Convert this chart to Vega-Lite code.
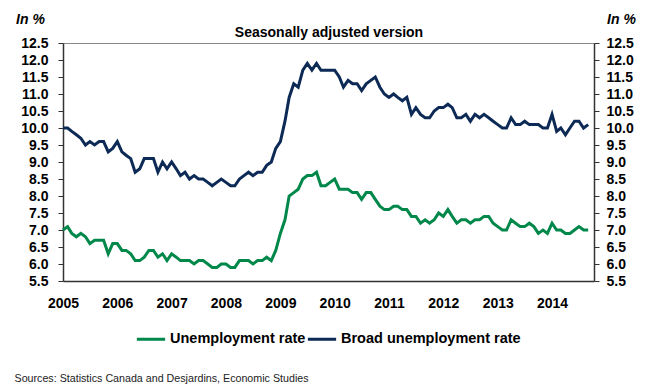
{
"$schema": "https://vega.github.io/schema/vega-lite/v6.json",
"width": 531, "height": 238,
"autosize": {"type": "none"},
"padding": {"left": 63, "top": 43, "right": 55, "bottom": 104},
"background": "white",
"config": {"font": "Liberation Sans", "view": {"stroke": null}},
"data": {"values": [
{"d":"2005-01-01","u":7.0,"b":10.0},{"d":"2005-02-01","u":7.1,"b":10.0},{"d":"2005-03-01","u":6.9,"b":9.9},{"d":"2005-04-01","u":6.8,"b":9.8},{"d":"2005-05-01","u":6.9,"b":9.7},{"d":"2005-06-01","u":6.8,"b":9.5},{"d":"2005-07-01","u":6.6,"b":9.6},{"d":"2005-08-01","u":6.7,"b":9.5},{"d":"2005-09-01","u":6.7,"b":9.6},{"d":"2005-10-01","u":6.7,"b":9.6},{"d":"2005-11-01","u":6.3,"b":9.3},{"d":"2005-12-01","u":6.6,"b":9.4},
{"d":"2006-01-01","u":6.6,"b":9.6},{"d":"2006-02-01","u":6.4,"b":9.3},{"d":"2006-03-01","u":6.4,"b":9.2},{"d":"2006-04-01","u":6.3,"b":9.1},{"d":"2006-05-01","u":6.1,"b":8.7},{"d":"2006-06-01","u":6.1,"b":8.8},{"d":"2006-07-01","u":6.2,"b":9.1},{"d":"2006-08-01","u":6.4,"b":9.1},{"d":"2006-09-01","u":6.4,"b":9.1},{"d":"2006-10-01","u":6.2,"b":8.7},{"d":"2006-11-01","u":6.3,"b":9.0},{"d":"2006-12-01","u":6.1,"b":8.8},
{"d":"2007-01-01","u":6.3,"b":9.0},{"d":"2007-02-01","u":6.2,"b":8.8},{"d":"2007-03-01","u":6.1,"b":8.6},{"d":"2007-04-01","u":6.1,"b":8.7},{"d":"2007-05-01","u":6.1,"b":8.5},{"d":"2007-06-01","u":6.0,"b":8.6},{"d":"2007-07-01","u":6.1,"b":8.5},{"d":"2007-08-01","u":6.1,"b":8.5},{"d":"2007-09-01","u":6.0,"b":8.4},{"d":"2007-10-01","u":5.9,"b":8.3},{"d":"2007-11-01","u":5.9,"b":8.4},{"d":"2007-12-01","u":6.0,"b":8.5},
{"d":"2008-01-01","u":6.0,"b":8.4},{"d":"2008-02-01","u":5.9,"b":8.3},{"d":"2008-03-01","u":5.9,"b":8.3},{"d":"2008-04-01","u":6.1,"b":8.5},{"d":"2008-05-01","u":6.1,"b":8.6},{"d":"2008-06-01","u":6.1,"b":8.7},{"d":"2008-07-01","u":6.0,"b":8.6},{"d":"2008-08-01","u":6.1,"b":8.7},{"d":"2008-09-01","u":6.1,"b":8.7},{"d":"2008-10-01","u":6.2,"b":8.9},{"d":"2008-11-01","u":6.1,"b":9.0},{"d":"2008-12-01","u":6.4,"b":9.4},
{"d":"2009-01-01","u":6.9,"b":9.6},{"d":"2009-02-01","u":7.3,"b":10.2},{"d":"2009-03-01","u":8.0,"b":10.9},{"d":"2009-04-01","u":8.1,"b":11.3},{"d":"2009-05-01","u":8.2,"b":11.2},{"d":"2009-06-01","u":8.5,"b":11.7},{"d":"2009-07-01","u":8.6,"b":11.9},{"d":"2009-08-01","u":8.6,"b":11.7},{"d":"2009-09-01","u":8.7,"b":11.9},{"d":"2009-10-01","u":8.3,"b":11.7},{"d":"2009-11-01","u":8.3,"b":11.7},{"d":"2009-12-01","u":8.4,"b":11.7},
{"d":"2010-01-01","u":8.5,"b":11.7},{"d":"2010-02-01","u":8.2,"b":11.5},{"d":"2010-03-01","u":8.2,"b":11.2},{"d":"2010-04-01","u":8.2,"b":11.4},{"d":"2010-05-01","u":8.1,"b":11.3},{"d":"2010-06-01","u":8.1,"b":11.3},{"d":"2010-07-01","u":7.9,"b":11.1},{"d":"2010-08-01","u":8.1,"b":11.3},{"d":"2010-09-01","u":8.1,"b":11.4},{"d":"2010-10-01","u":7.9,"b":11.5},{"d":"2010-11-01","u":7.7,"b":11.2},{"d":"2010-12-01","u":7.6,"b":11.0},
{"d":"2011-01-01","u":7.6,"b":10.9},{"d":"2011-02-01","u":7.7,"b":11.0},{"d":"2011-03-01","u":7.7,"b":10.9},{"d":"2011-04-01","u":7.6,"b":10.8},{"d":"2011-05-01","u":7.6,"b":10.9},{"d":"2011-06-01","u":7.4,"b":10.4},{"d":"2011-07-01","u":7.4,"b":10.6},{"d":"2011-08-01","u":7.2,"b":10.4},{"d":"2011-09-01","u":7.3,"b":10.3},{"d":"2011-10-01","u":7.2,"b":10.3},{"d":"2011-11-01","u":7.3,"b":10.5},{"d":"2011-12-01","u":7.5,"b":10.6},
{"d":"2012-01-01","u":7.4,"b":10.6},{"d":"2012-02-01","u":7.6,"b":10.7},{"d":"2012-03-01","u":7.4,"b":10.6},{"d":"2012-04-01","u":7.2,"b":10.3},{"d":"2012-05-01","u":7.3,"b":10.3},{"d":"2012-06-01","u":7.3,"b":10.4},{"d":"2012-07-01","u":7.2,"b":10.2},{"d":"2012-08-01","u":7.3,"b":10.4},{"d":"2012-09-01","u":7.3,"b":10.3},{"d":"2012-10-01","u":7.4,"b":10.4},{"d":"2012-11-01","u":7.4,"b":10.3},{"d":"2012-12-01","u":7.2,"b":10.2},
{"d":"2013-01-01","u":7.1,"b":10.1},{"d":"2013-02-01","u":7.0,"b":10.0},{"d":"2013-03-01","u":7.0,"b":10.0},{"d":"2013-04-01","u":7.3,"b":10.3},{"d":"2013-05-01","u":7.2,"b":10.1},{"d":"2013-06-01","u":7.1,"b":10.1},{"d":"2013-07-01","u":7.1,"b":10.2},{"d":"2013-08-01","u":7.2,"b":10.1},{"d":"2013-09-01","u":7.1,"b":10.1},{"d":"2013-10-01","u":6.9,"b":10.1},{"d":"2013-11-01","u":7.0,"b":10.0},{"d":"2013-12-01","u":6.9,"b":10.0},
{"d":"2014-01-01","u":7.2,"b":10.4},{"d":"2014-02-01","u":7.0,"b":9.9},{"d":"2014-03-01","u":7.0,"b":10.0},{"d":"2014-04-01","u":6.9,"b":9.8},{"d":"2014-05-01","u":6.9,"b":10.0},{"d":"2014-06-01","u":7.0,"b":10.2},{"d":"2014-07-01","u":7.1,"b":10.2},{"d":"2014-08-01","u":7.0,"b":10.0},{"d":"2014-09-01","u":7.0,"b":10.1}
]},
"transform": [{"fold": ["u", "b"], "as": ["s", "v"]}],
"layer": [
{
"mark": {"type": "line", "strokeWidth": 3},
"encoding": {
"x": {"field": "d", "type": "temporal",
 "scale": {"type": "utc", "domain": [{"year": 2005, "month": 1, "date": 1, "utc": true}, {"year": 2014, "month": 10, "date": 10, "utc": true}]},
 "axis": {"orient": "bottom", "tickCount": {"interval": "year", "step": 1}, "labelExpr": "utcFormat(datum.value, '%Y')",
  "labelFontSize": 14, "labelFontWeight": "bold", "labelColor": "#000", "ticks": false, "tickSize": 0, "labelPadding": 15,
  "labelFlush": false, "labelOverlap": false, "domainColor": "#333", "domainWidth": 1.5, "grid": false,
  "title": "Sources: Statistics Canada and Desjardins, Economic Studies", "titleFontSize": 10.7, "titleFontWeight": "normal",
  "titleColor": "#222", "titleX": -49, "titleY": 100, "titleAlign": "left", "titleAnchor": "start", "titleBaseline": "alphabetic"}},
"y": {"field": "v", "type": "quantitative",
 "scale": {"domain": [5.5, 12.5], "nice": false, "zero": false},
 "axis": {"orient": "left", "values": [5.5, 6, 6.5, 7, 7.5, 8, 8.5, 9, 9.5, 10, 10.5, 11, 11.5, 12, 12.5], "format": ".1f",
  "labelFontSize": 14, "labelFontWeight": "bold", "labelColor": "#000", "tickSize": 5, "tickColor": "#333", "domainColor": "#333", "domainWidth": 1.5,
  "labelPadding": 10, "grid": false, "title": "In %", "titleAngle": 0, "titleX": -33, "titleY": -20, "titleAlign": "center",
  "titleBaseline": "alphabetic", "titleFontStyle": "italic", "titleFontWeight": "bold", "titleFontSize": 14, "titleColor": "#000"}},
"color": {"field": "s", "type": "nominal",
 "scale": {"domain": ["u", "b"], "range": ["#00884A", "#0C2A55"]},
 "legend": {"orient": "none", "legendX": 72, "legendY": 280, "direction": "horizontal", "title": null,
  "symbolType": "stroke", "symbolStrokeWidth": 3, "symbolSize": 800, "labelFontSize": 14.5, "labelFontWeight": "bold", "labelColor": "#000",
  "labelLimit": 0,
  "labelExpr": "datum.value == 'u' ? 'Unemployment rate' : 'Broad unemployment rate'", "columnPadding": -5, "labelOffset": 3, "padding": 0}}
}
},
{
"mark": {"type": "line", "strokeWidth": 3, "opacity": 0},
"encoding": {
"x": {"field": "d", "type": "temporal",
 "axis": {"orient": "top", "labels": false, "ticks": false, "domain": true, "domainColor": "#888", "grid": false,
  "title": "Seasonally adjusted version", "titleFontSize": 14, "titleFontWeight": "bold", "titleColor": "#000",
  "titleX": 265.5, "titleY": -7, "titleAlign": "center", "titleBaseline": "alphabetic"}},
"y": {"field": "v", "type": "quantitative",
 "scale": {"domain": [5.5, 12.5], "nice": false, "zero": false},
 "axis": {"orient": "right", "values": [5.5, 6, 6.5, 7, 7.5, 8, 8.5, 9, 9.5, 10, 10.5, 11, 11.5, 12, 12.5], "format": ".1f",
  "labelFontSize": 14, "labelFontWeight": "bold", "labelColor": "#000", "tickSize": 5, "tickColor": "#333", "domainColor": "#333", "domainWidth": 1.5,
  "labelPadding": 7, "grid": false, "title": "In %", "titleAngle": 0, "titleX": 27, "titleY": -20, "titleAlign": "center",
  "titleBaseline": "alphabetic", "titleFontStyle": "italic", "titleFontWeight": "bold", "titleFontSize": 14, "titleColor": "#000"}},
"detail": {"field": "s", "type": "nominal"}
}
}
],
"resolve": {"axis": {"x": "independent", "y": "independent"}}
}
